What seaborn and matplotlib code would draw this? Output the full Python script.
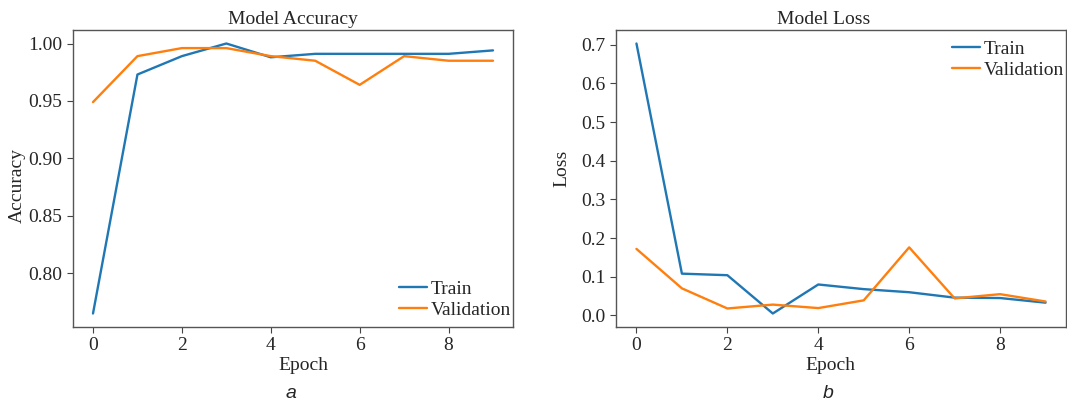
import seaborn as sns
import matplotlib.pyplot as plt
import pandas as pd

sns.set_style("ticks")
plt.rcParams['font.family'] = ['Liberation Serif', 'DejaVu Serif']

epochs = list(range(10))
acc_train = [0.765, 0.973, 0.989, 1.000, 0.988, 0.991, 0.991, 0.991, 0.991, 0.994]
acc_val = [0.949, 0.989, 0.996, 0.996, 0.989, 0.985, 0.964, 0.989, 0.985, 0.985]
loss_train = [0.703, 0.108, 0.104, 0.005, 0.080, 0.068, 0.060, 0.046, 0.045, 0.033]
loss_val = [0.172, 0.070, 0.018, 0.028, 0.019, 0.039, 0.176, 0.044, 0.055, 0.036]

acc = pd.DataFrame({"Epoch": epochs * 2,
                    "value": acc_train + acc_val,
                    "set": ["Train"] * 10 + ["Validation"] * 10})
loss = pd.DataFrame({"Epoch": epochs * 2,
                     "value": loss_train + loss_val,
                     "set": ["Train"] * 10 + ["Validation"] * 10})

colors = ["#1f77b4", "#ff7f0e"]
fig = plt.figure(figsize=(10.67, 4.01), dpi=100)
ax1 = fig.add_axes([73 / 1067, 74 / 401, 440 / 1067, 297 / 401])
ax2 = fig.add_axes([616 / 1067, 74 / 401, 450 / 1067, 297 / 401])

sns.lineplot(data=acc, x="Epoch", y="value", hue="set", palette=colors, ax=ax1, linewidth=1.7)
sns.lineplot(data=loss, x="Epoch", y="value", hue="set", palette=colors, ax=ax2, linewidth=1.7)

fs = 14
for ax, title, ylab in [(ax1, "Model Accuracy", "Accuracy"), (ax2, "Model Loss", "Loss")]:
    ax.set_title(title, fontsize=fs, pad=4)
    ax.set_xlabel("Epoch", fontsize=fs)
    ax.set_ylabel(ylab, fontsize=fs)
    ax.set_xticks([0, 2, 4, 6, 8])
    ax.tick_params(labelsize=fs, color="#444444", length=4)
    for s in ax.spines.values():
        s.set_color("#555555")
        s.set_linewidth(1.0)

# label positions as they sit in the reference
ax1.xaxis.set_label_coords(0.523, -0.1)
ax2.xaxis.set_label_coords(0.476, -0.1)
ax1.yaxis.set_label_coords(-0.107, 0.478)
ax2.yaxis.set_label_coords(-0.102, 0.535)
ax2.title.set_x(0.462)

ax1.set_yticks([0.80, 0.85, 0.90, 0.95, 1.00])
ax1.set_yticklabels(["0.80", "0.85", "0.90", "0.95", "1.00"])
ax2.set_yticks([0.0, 0.1, 0.2, 0.3, 0.4, 0.5, 0.6, 0.7])

leg_kw = dict(frameon=False, fontsize=fs, handlelength=1.45, handletextpad=0.2,
              labelspacing=0.2, borderpad=0, borderaxespad=0, bbox_transform=fig.transFigure)
ax1.legend(loc="lower right", bbox_to_anchor=(511 / 1067, 82 / 401), **leg_kw)
ax2.legend(loc="upper right", bbox_to_anchor=(1064 / 1067, 361 / 401), **leg_kw)

fig.text(291 / 1067, 1 - 393 / 401, "a", fontsize=14, style="italic", family="Liberation Sans", ha="center", va="center")
fig.text(828 / 1067, 1 - 393 / 401, "b", fontsize=14, style="italic", family="Liberation Sans", ha="center", va="center")

fig.savefig("out.png", dpi=100)
